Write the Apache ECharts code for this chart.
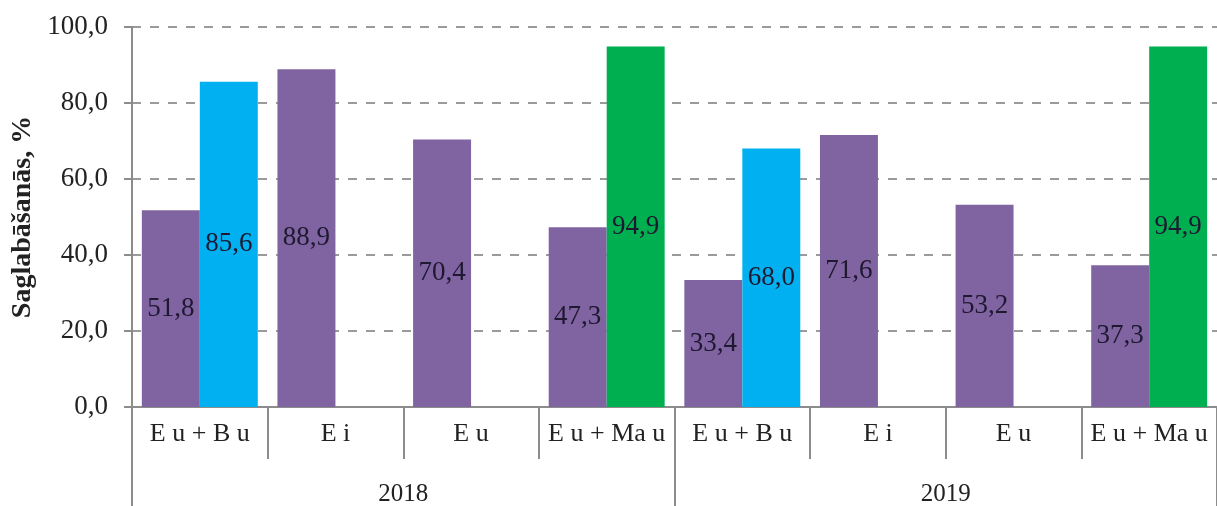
<!DOCTYPE html>
<html>
<head>
<meta charset="utf-8">
<script src="https://cdn.jsdelivr.net/npm/echarts@6/dist/echarts.min.js"></script>
<style>
  html, body { margin: 0; padding: 0; background: #fff; }
  #chart { width: 1217px; height: 506px; }
</style>
</head>
<body>
<div id="chart"></div>
<script>
// Treatment variants inside each year
const categories = ['E u + B u', 'E i', 'E u', 'E u + Ma u', 'E u + B u', 'E i', 'E u', 'E u + Ma u'];
const years = ['2018', '2019'];
// Retention of the base variant (purple)
const baseValues = [51.8, 88.9, 70.4, 47.3, 33.4, 71.6, 53.2, 37.3];
// Retention of the combined component (blue for B u, green for Ma u)
const addedValues = [85.6, null, null, 94.9, 68.0, null, null, 94.9];
const addedColors = ['#00B0F0', null, null, '#00B050', '#00B0F0', null, null, '#00B050'];
const yTicks = [0, 20, 40, 60, 80, 100];

const serif = '"Liberation Serif", "Times New Roman", serif';
const fmt = v => v.toFixed(1).replace('.', ',');

const labelStyle = {
  show: true,
  position: 'inside',
  fontFamily: serif,
  fontSize: 27,
  color: '#1e1830',
  formatter: p => fmt(p.value)
};

const chart = echarts.init(document.getElementById('chart'));
chart.setOption({
  animation: false,
  grid: { left: 132, right: 0, top: 27, bottom: 99, containLabel: false, outerBoundsMode: 'none' },
  xAxis: [
    {
      type: 'category',
      data: categories,
      position: 'bottom',
      axisLine: { show: true, lineStyle: { color: '#8c8c8c', width: 2 } },
      axisTick: { show: true, length: 52, alignWithLabel: false, lineStyle: { color: '#8c8c8c', width: 2 } },
      axisLabel: { fontFamily: serif, fontSize: 26, color: '#222', margin: 14, interval: 0 }
    },
    {
      type: 'category',
      data: years,
      position: 'bottom',
      axisLine: { show: false },
      axisTick: { show: true, length: 100, alignWithLabel: false, lineStyle: { color: '#8c8c8c', width: 2 } },
      axisLabel: { fontFamily: serif, fontSize: 25, color: '#222', margin: 75 }
    }
  ],
  yAxis: {
    type: 'value',
    min: yTicks[0],
    max: yTicks[yTicks.length - 1],
    interval: 20,
    name: 'Saglabāšanās, %',
    nameLocation: 'middle',
    nameGap: 92,
    nameTextStyle: { fontFamily: serif, fontSize: 28, fontWeight: 'bold', color: '#222' },
    axisLine: { show: true, lineStyle: { color: '#8c8c8c', width: 2 } },
    axisTick: { show: true, length: 8, lineStyle: { color: '#8c8c8c', width: 2 } },
    axisLabel: { fontFamily: serif, fontSize: 27, color: '#222', margin: 24, formatter: v => fmt(v) },
    splitLine: { show: true, lineStyle: { color: '#9a9a9a', width: 2, type: [9, 9] } }
  },
  series: [
    {
      type: 'bar',
      xAxisIndex: 0,
      data: baseValues,
      itemStyle: { color: '#8064A2' },
      barGap: '0%',
      barCategoryGap: '14.5%',
      label: labelStyle
    },
    {
      type: 'bar',
      xAxisIndex: 0,
      data: addedValues.map((v, i) => v == null ? null : { value: v, itemStyle: { color: addedColors[i] } }),
      label: labelStyle
    }
  ]
});
</script>
</body>
</html>
